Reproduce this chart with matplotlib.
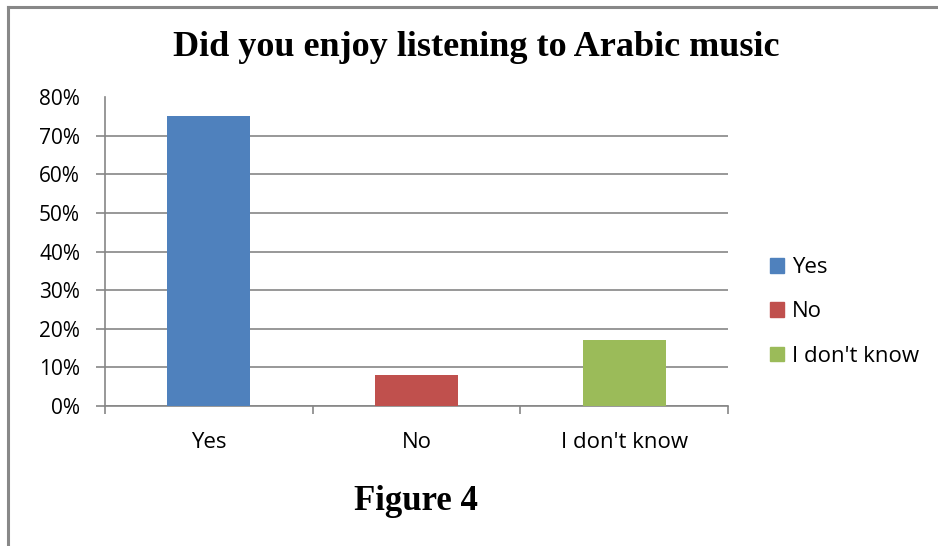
import matplotlib.pyplot as plt
from matplotlib.lines import Line2D
from matplotlib.patches import Patch

kategorier = ['Yes', 'No', "I don't know"]
andeler = [0.75, 0.08, 0.17]
farger = ['#4F81BD', '#C0504D', '#9BBB59']
yticks = [0.0, 0.1, 0.2, 0.3, 0.4, 0.5, 0.6, 0.7, 0.8]
ytick_tekst = ['0%', '10%', '20%', '30%', '40%', '50%', '60%', '70%', '80%']

grå = '#868686'
skrift = 'Open Sans'

fig = plt.figure(figsize=(9.38, 5.46), dpi=100)
ax = fig.add_axes([105 / 938, 1 - 406 / 546, 623 / 938, 309 / 546])

x = range(len(kategorier))
ax.bar(x, andeler, width=0.4, color=farger, zorder=3)

ax.set_xlim(-0.5, 2.5)
ax.set_ylim(0, 0.8)
ax.set_yticks(yticks)
ax.set_yticklabels(ytick_tekst, fontsize=15, family=skrift)
ax.set_xticks(list(x))
ax.set_xticklabels(kategorier, fontsize=16, family=skrift)
ax.set_xticks([-0.5, 0.5, 1.5, 2.5], minor=True)

ax.tick_params(axis='x', which='major', length=0, pad=19)
ax.tick_params(axis='x', which='minor', length=6, width=1.2, color=grå, direction='out')
ax.tick_params(axis='y', length=6.5, width=1.2, color=grå, pad=11.5)

ax.yaxis.grid(True, color=grå, linewidth=1.2, zorder=0)
# ingen linje eller tick på 80 %
siste = ax.yaxis.get_major_ticks()[-1]
siste.gridline.set_visible(False)
siste.tick1line.set_visible(False)

for side in ['top', 'right']:
    ax.spines[side].set_visible(False)
for side in ['left', 'bottom']:
    ax.spines[side].set_color(grå)
    ax.spines[side].set_linewidth(1.2)

fig.text(476 / 938, 1 - 48 / 546, 'Did you enjoy listening to Arabic music',
         ha='center', va='center', fontsize=26, fontweight='bold', family='Liberation Serif')
fig.text(416 / 938, 1 - 502 / 546, 'Figure 4',
         ha='center', va='center', fontsize=25, fontweight='bold', family='Liberation Serif')

handles = [Patch(color=c) for c in farger]
fig.legend(handles, kategorier, loc='center left', bbox_to_anchor=(750 / 938, 1 - 312 / 546),
           frameon=False, prop={'family': skrift, 'size': 16},
           handlelength=0.65, handleheight=0.65, handletextpad=0.35, labelspacing=1.05)

# ramme til venstre og oppe
fig.add_artist(Line2D([7.5 / 938, 7.5 / 938], [0, 1 - 6.5 / 546], color='#888888', linewidth=2.2))
fig.add_artist(Line2D([7.5 / 938, 1], [1 - 6.5 / 546, 1 - 6.5 / 546], color='#888888', linewidth=2.2))

fig.savefig('out.png', dpi=100)
